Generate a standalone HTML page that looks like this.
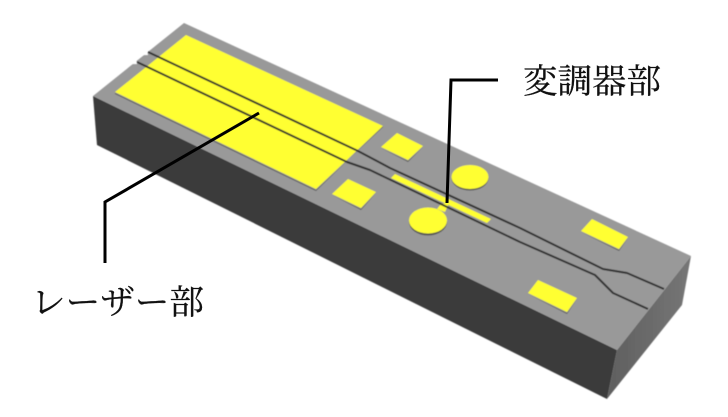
<!DOCTYPE html>
<html lang="ja">
<head>
<meta charset="utf-8">
<style>
html,body{margin:0;padding:0;background:#fff;width:728px;height:417px;overflow:hidden}
svg{display:block}
text{font-family:"Liberation Serif","Noto Serif CJK SC","Noto Serif CJK JP",serif;font-size:34px;fill:#111;stroke:#111;stroke-width:.25px}
</style>
</head>
<body>
<svg width="728" height="417" viewBox="0 0 728 417" xmlns="http://www.w3.org/2000/svg">
<defs>
<linearGradient id="r" x1="0" y1="0" x2="1" y2="0">
<stop offset="0" stop-color="#5f5f5f"/><stop offset="1" stop-color="#767676"/>
</linearGradient>
<filter id="b" x="-5%" y="-5%" width="110%" height="110%"><feGaussianBlur stdDeviation="0.4"/></filter>
</defs>
<g filter="url(#b)">
<polygon points="93,96 617,350 607,399 97,145" fill="#3b3b3b"/>
<polygon points="617,350 691,256 682,305 607,399" fill="url(#r)"/>
<polygon points="184,23 691,256 617,350 93,96" fill="#999999"/>
<!-- notches at the ridge ends -->
<polygon points="136,60 131,64 137,64" fill="#fff"/>
<polygon points="147,51 142,55 148,55" fill="#fff"/>
<!-- shadows -->
<g fill="#555">
<polygon points="115,93 316,190 383,127 383,126 316,191 115,94"/>
<polygon points="381,148 408,161 423,147 408,162"/>
<polygon points="332,195 361,209 376,193 361,210"/>
<polygon points="581,232 619,250 628,238 619,251"/>
<polygon points="528,294 567,313 577,299 567,314"/>
<ellipse cx="470" cy="178" rx="18.5" ry="12.5"/>
<ellipse cx="428" cy="222" rx="19" ry="13.5"/>
</g>
<!-- large pad -->
<polygon points="186,35 383,126 316,189 115,92" fill="#ffff33"/>
<!-- small pads -->
<g fill="#ffff33">
<polygon points="397,133 423,146 408,160 381,147"/>
<polygon points="348,179 376,192 361,208 332,194"/>
<polygon points="592,219 628,237 619,249 581,231"/>
<polygon points="538,280 577,298 567,312 528,293"/>
<ellipse cx="470" cy="177" rx="18.5" ry="12"/>
<ellipse cx="428" cy="220.500" rx="19" ry="13"/>
<polygon points="395,174 491,219 487,223 391,178"/>
<polygon points="437,209 441,204 449,203 445,212"/>
</g>
<!-- waveguide -->
<g fill="none" stroke="#2e2e2e" stroke-width="2" stroke-linejoin="round">
<polyline points="148,52 358,151 390,168 520,228 603,269 627,273 664,289"/>
<polyline points="137,62 347,162 370,170 520,242 595,275 613,293 648,309"/>
</g>
</g>
<!-- leaders -->
<g fill="none" stroke="#000" stroke-width="3" stroke-linejoin="miter">
<polyline points="259,113 105,202 105,263"/>
<polyline points="498,80 451,80 447,203"/>
</g>
<text x="523" y="93" textLength="138" lengthAdjust="spacingAndGlyphs">変調器部</text>
<text x="31" y="314" textLength="173" lengthAdjust="spacingAndGlyphs">レーザー部</text>
</svg>
</body>
</html>
